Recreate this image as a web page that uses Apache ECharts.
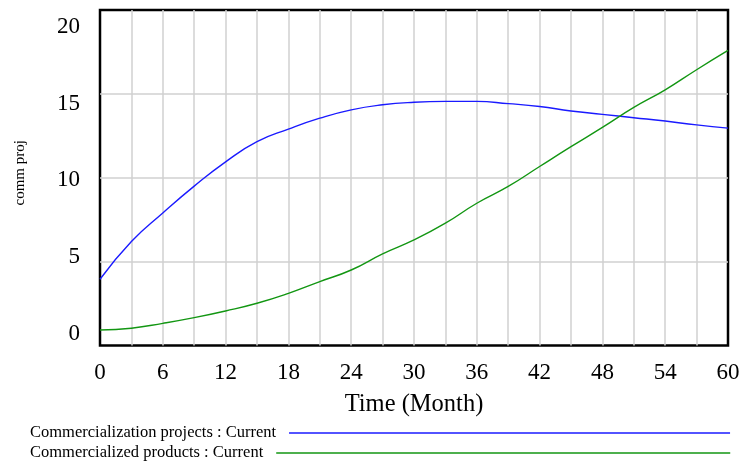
<!DOCTYPE html>
<html>
<head>
<meta charset="utf-8">
<script src="https://cdn.jsdelivr.net/npm/echarts@6/dist/echarts.min.js"></script>
<style>
html,body{margin:0;padding:0;background:#fff;}
#chart{width:745px;height:465px;}
</style>
</head>
<body>
<div id="chart"></div>
<script>
var months = [0, 3, 6, 9, 12, 15, 18, 21, 24, 27, 30, 33, 36, 39, 42, 45, 48, 51, 54, 57, 60];
var projects = [3.95, 6.2, 7.9, 9.5, 10.95, 12.15, 12.9, 13.55, 14.05, 14.35, 14.5, 14.55, 14.55, 14.42, 14.25, 13.98, 13.78, 13.58, 13.38, 13.15, 12.96];
var products = [0.92, 1.03, 1.32, 1.66, 2.06, 2.52, 3.11, 3.81, 4.5, 5.46, 6.29, 7.29, 8.48, 9.48, 10.67, 11.85, 13.0, 14.19, 15.24, 16.44, 17.59];
var yTicks = [0, 5, 10, 15, 20];
var seriesNames = ['Commercialization projects : Current', 'Commercialized products : Current'];
var xTitle = 'Time (Month)';
var yTitle = 'comm proj';

var FONT = '"Liberation Serif", "Times New Roman", serif';
var BLUE = '#1a1aff';
var GREEN = '#129612';

function pairs(vals) { return months.map(function (m, i) { return [m, vals[i]]; }); }

var chart = echarts.init(document.getElementById('chart'), null, {renderer: 'canvas'});
chart.setOption({
  animation: false,
  backgroundColor: '#fff',
  grid: {left: 100, right: 17, top: 10, bottom: 119.5, outerBoundsMode: 'none', containLabel: false,
         show: true, borderColor: '#000', borderWidth: 2.5, backgroundColor: 'transparent'},
  xAxis: {
    type: 'value', min: 0, max: 60, interval: 3,
    name: xTitle, nameLocation: 'middle', nameGap: 47,
    nameTextStyle: {fontFamily: FONT, fontSize: 24.5, color: '#000'},
    axisLine: {show: false},
    axisTick: {show: false},
    axisLabel: {
      fontFamily: FONT, fontSize: 23, color: '#000', margin: 16,
      formatter: function (v) { return v % 6 === 0 ? String(v) : ''; }
    },
    splitLine: {show: true, showMinLine: false, showMaxLine: false, lineStyle: {color: '#d0d0d0', width: 1.5}}
  },
  yAxis: [{
    type: 'value', min: 0, max: 20, interval: 5,
    name: yTitle, nameLocation: 'middle', nameGap: 72,
    nameTextStyle: {fontFamily: FONT, fontSize: 15, color: '#000', padding: [0, 0, 0, 10]},
    axisLine: {show: false}, axisTick: {show: false},
    axisLabel: {show: false},
    splitLine: {show: true, showMinLine: false, showMaxLine: false, lineStyle: {color: '#d0d0d0', width: 1.5}}
  }, {
    type: 'value', min: -0.77, max: 21.1, position: 'left',
    axisLine: {show: false}, axisTick: {show: false},
    splitLine: {show: false},
    axisLabel: {customValues: yTicks, fontFamily: FONT, fontSize: 23, color: '#000', margin: 20}
  }],
  legend: [{
    data: [seriesNames[0]], left: 30, top: 424.5, icon: 'rect',
    itemWidth: 441, itemHeight: 1.5, align: 'right', padding: 0,
    textStyle: {fontFamily: FONT, fontSize: 16.5, color: '#000', padding: [0, 8, 0, 0]}
  }, {
    data: [seriesNames[1]], left: 30, top: 444.5, icon: 'rect',
    itemWidth: 454, itemHeight: 1.5, align: 'right', padding: 0,
    textStyle: {fontFamily: FONT, fontSize: 16.5, color: '#000', padding: [0, 8, 0, 0]}
  }],
  series: [{
    name: seriesNames[0], type: 'line', yAxisIndex: 0, data: pairs(projects),
    smooth: true, symbol: 'none', lineStyle: {color: BLUE, width: 1.4}, itemStyle: {color: BLUE}
  }, {
    name: seriesNames[1], type: 'line', yAxisIndex: 0, data: pairs(products),
    smooth: true, symbol: 'none', lineStyle: {color: GREEN, width: 1.4}, itemStyle: {color: GREEN}
  }]
});
</script>
</body>
</html>
